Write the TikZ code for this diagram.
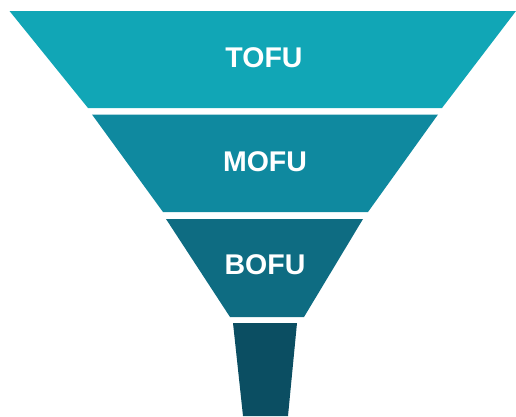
\documentclass[tikz,border=0pt]{standalone}
\usepackage{fontspec}
\setmainfont{Liberation Sans}
\usepackage{tikz}

\definecolor{tofucol}{RGB}{17,166,182}
\definecolor{mofucol}{RGB}{15,137,159}
\definecolor{bofucol}{RGB}{14,108,130}
\definecolor{stemcol}{RGB}{11,78,98}

\tikzset{
    stage/.style={font=\fontsize{28.5}{33}\selectfont\bfseries, text=white}
}

\begin{document}
\begin{tikzpicture}[x=1pt, y=-1pt]
    \useasboundingbox (0,0) rectangle (516,416);

    \fill[color=tofucol] (9.5,11) -- (516,11) -- (442,108) -- (88,108) -- cycle;
    \fill[color=mofucol] (92,114.5) -- (438,114.5) -- (368,212) -- (163,212) -- cycle;
    \fill[color=bofucol] (166,219) -- (363,219) -- (304,317) -- (230,317) -- cycle;
    \fill[color=stemcol] (233,323) -- (297,323) -- (288,416) -- (243,416) -- cycle;

    \node[stage] (tofu) at (264,58) {TOFU};
    \node[stage] (mofu) at (265,162) {MOFU};
    \node[stage] (bofu) at (265,265) {BOFU};

\end{tikzpicture}
\end{document}
